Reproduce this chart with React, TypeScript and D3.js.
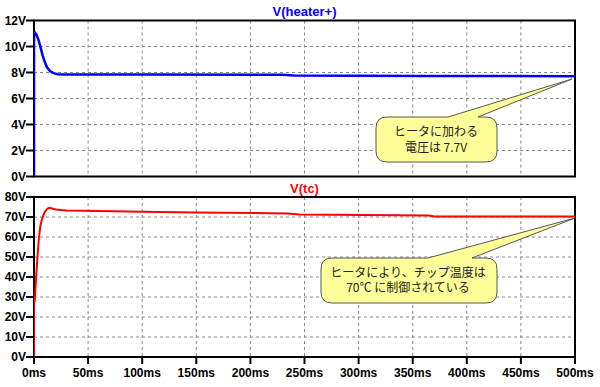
import React from "react";
import * as d3 from "d3";

// transient: V(heater+) [V] vs time [ms]
const heaterT = [0, 0.01, 0.5, 2, 4, 6, 8, 10, 12, 15, 18, 22, 30, 100, 230, 240, 360, 500];
const heaterV = [0, 11.1, 11.1, 10.95, 10.55, 9.95, 9.3, 8.8, 8.4, 8.1, 7.95, 7.87, 7.85, 7.84, 7.82, 7.76, 7.74, 7.71];

// transient: V(tc) [V] vs time [ms]
const tcT = [0, 0.01, 0.6, 1, 2, 3.2, 4.6, 6, 8, 10, 12, 14, 16, 20, 30, 60, 100, 150, 235, 245, 365, 370, 500];
const tcV = [0, 27, 28, 31, 40, 50, 60, 66, 70, 72.5, 74, 74.6, 74.4, 73.8, 73.2, 73, 72.6, 72.3, 71.8, 71.2, 70.8, 70.3, 70.2];

const xTicks = [0, 50, 100, 150, 200, 250, 300, 350, 400, 450, 500];
const heaterTicks = [0, 2, 4, 6, 8, 10, 12];
const tcTicks = [0, 10, 20, 30, 40, 50, 60, 70, 80];

const notes = [
  ["ヒータに加わる", "電圧は 7.7V"],
  ["ヒータにより、チップ温度は", "70℃ に制御されている"],
];

const W = 600;
const H = 387;
const left = 34;
const right = 575;

const x = d3.scaleLinear().domain([0, 500]).range([left, right]);

type Pane = {
  title: string;
  color: string;
  top: number;
  bottom: number;
  max: number;
  ticks: number[];
  t: number[];
  v: number[];
  width: number;
};

const panes: Pane[] = [
  { title: "V(heater+)", color: "#0000ff", top: 20.5, bottom: 176.5, max: 12, ticks: heaterTicks, t: heaterT, v: heaterV, width: 2.5 },
  { title: "V(tc)", color: "#ff0000", top: 197, bottom: 357, max: 80, ticks: tcTicks, t: tcT, v: tcV, width: 2 },
];

// balloon: rounded box with a tail going from its top edge to the tip
function balloon(bx0: number, by0: number, bx1: number, by1: number, tx0: number, tx1: number, tip: [number, number]) {
  const r = 11;
  const p = d3.path();
  p.moveTo(bx0 + r, by0);
  p.lineTo(tx0, by0);
  p.lineTo(tip[0], tip[1]);
  p.lineTo(tx1, by0);
  p.lineTo(bx1 - r, by0);
  p.quadraticCurveTo(bx1, by0, bx1, by0 + r);
  p.lineTo(bx1, by1 - r);
  p.quadraticCurveTo(bx1, by1, bx1 - r, by1);
  p.lineTo(bx0 + r, by1);
  p.quadraticCurveTo(bx0, by1, bx0, by1 - r);
  p.lineTo(bx0, by0 + r);
  p.quadraticCurveTo(bx0, by0, bx0 + r, by0);
  p.closePath();
  return p.toString();
}

export default function App() {
  const yH = d3.scaleLinear().domain([0, 12]).range([panes[0].bottom, panes[0].top]);
  const yT = d3.scaleLinear().domain([0, 80]).range([panes[1].bottom, panes[1].top]);
  const tipTop: [number, number] = [x(500) - 3, yH(7.5)];
  const tipBot: [number, number] = [x(500), yT(69.5)];

  return (
    <svg width={W} height={H} style={{ position: "absolute", left: 0, top: 0, background: "#fff" }}>
      <defs>
        {panes.map((p, i) => (
          <clipPath id={"clip" + i} key={i}>
            <rect x={left} y={p.top - 2} width={right - left} height={p.bottom - p.top + 2} />
          </clipPath>
        ))}
      </defs>
      {panes.map((p, i) => {
        const y = d3.scaleLinear().domain([0, p.max]).range([p.bottom, p.top]);
        const line = d3.line<number>().x((_, j) => x(p.t[j])).y((d) => y(d));
        return (
          <g key={i}>
            {p.ticks.slice(1, -1).map((v) => (
              <line key={"h" + v} x1={left} x2={right} y1={y(v)} y2={y(v)} stroke="#888" strokeWidth={1} strokeDasharray="3,3" />
            ))}
            {xTicks.slice(1, -1).map((t) => (
              <line key={"v" + t} x1={x(t)} x2={x(t)} y1={p.top} y2={p.bottom} stroke="#888" strokeWidth={1} strokeDasharray="3,3" />
            ))}
            <rect x={left} y={p.top} width={right - left} height={p.bottom - p.top} fill="none" stroke="#000" strokeWidth={2} />
            {p.ticks.map((v) => (
              <g key={"t" + v}>
                <line x1={left - 8} x2={left} y1={y(v)} y2={y(v)} stroke="#000" strokeWidth={2} />
                <text x={left - 8} y={y(v)} dy="0.35em" textAnchor="end" fontFamily="Liberation Sans, Arial, sans-serif" fontWeight="bold" fontSize={12} fill="#000">
                  {v + "V"}
                </text>
              </g>
            ))}
            <path d={line(p.v) || ""} fill="none" stroke={p.color} strokeWidth={p.width} clipPath={`url(#clip${i})`} />
            <text x={(left + right) / 2} y={p.top - 9} dy="0.35em" textAnchor="middle" fontFamily="Liberation Sans, Arial, sans-serif" fontWeight="bold" fontSize={13} fill={p.color}>
              {p.title}
            </text>
          </g>
        );
      })}
      {xTicks.map((t) => (
        <g key={"x" + t}>
          <line x1={x(t)} x2={x(t)} y1={357} y2={364} stroke="#000" strokeWidth={2} />
          <text x={x(t)} y={373} dy="0.35em" textAnchor="middle" fontFamily="Liberation Sans, Arial, sans-serif" fontWeight="bold" fontSize={12} fill="#000">
            {t + "ms"}
          </text>
        </g>
      ))}
      <path d={balloon(376, 117, 497, 162, 448, 478, tipTop)} fill="#ffff99" stroke="#555" strokeWidth={1} />
      {notes[0].map((s, i) => (
        <text key={i} x={436} y={132 + i * 15.5} dy="0.35em" textAnchor="middle" fontFamily="Noto Sans CJK JP, sans-serif" fontSize={12} fill="#222">
          {s}
        </text>
      ))}
      <path d={balloon(321, 258, 497, 303, 428, 472, tipBot)} fill="#ffff99" stroke="#555" strokeWidth={1} />
      {notes[1].map((s, i) => (
        <text key={i} x={408} y={272.5 + i * 15.5} dy="0.35em" textAnchor="middle" fontFamily="Noto Sans CJK JP, sans-serif" fontSize={12} fill="#222">
          {s}
        </text>
      ))}
    </svg>
  );
}
